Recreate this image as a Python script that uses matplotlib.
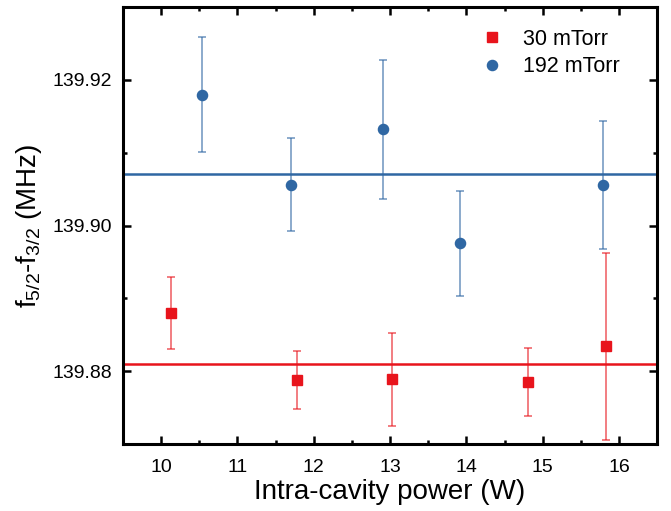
import matplotlib.pyplot as plt
from matplotlib.lines import Line2D
from matplotlib.ticker import MultipleLocator

plt.rcParams['font.family'] = ['Liberation Sans', 'DejaVu Sans']
plt.rcParams['mathtext.fontset'] = 'custom'
plt.rcParams['mathtext.rm'] = 'Liberation Sans'
plt.rcParams['mathtext.it'] = 'Liberation Sans'

# 30 mTorr
power_30 = [10.13, 11.78, 13.02, 14.81, 15.83]
freq_30 = [139.8880, 139.8788, 139.8789, 139.8785, 139.8834]
err_30 = [0.0049, 0.0040, 0.0064, 0.0047, 0.0128]
mean_30 = 139.8810

# 192 mTorr
power_192 = [10.53, 11.70, 12.91, 13.92, 15.79]
freq_192 = [139.9180, 139.9056, 139.9132, 139.8976, 139.9056]
err_192 = [0.0079, 0.0064, 0.0095, 0.0072, 0.0088]
mean_192 = 139.9071

red = '#e8141c'
blue = '#2f67a3'

fig = plt.figure(figsize=(6.71, 5.11), dpi=100)
ax = fig.add_axes([0.1833, 0.131, 0.796, 0.855])

ax.axhline(mean_192, color=blue, lw=1.8, zorder=1)
ax.axhline(mean_30, color=red, lw=1.8, zorder=1)

ax.errorbar(power_30, freq_30, yerr=err_30, fmt='s', color=red, ms=6.5,
            ecolor=red, elinewidth=1.1, capsize=3, capthick=1.1, zorder=3)
ax.errorbar(power_192, freq_192, yerr=err_192, fmt='o', color=blue, ms=7.3,
            ecolor=blue, elinewidth=1.1, capsize=3, capthick=1.1, zorder=3)
# lighter error bars as in the original
for c in ax.containers:
    for bar in c[2]:
        bar.set_alpha(0.7)
    for cap in c[1]:
        cap.set_alpha(0.7)

ax.set_xlim(9.5, 16.5)
ax.set_ylim(139.87, 139.93)
ax.xaxis.set_major_locator(MultipleLocator(1))
ax.xaxis.set_minor_locator(MultipleLocator(0.5))
ax.yaxis.set_major_locator(MultipleLocator(0.02))
ax.yaxis.set_minor_locator(MultipleLocator(0.01))
ax.yaxis.set_major_formatter(plt.FormatStrFormatter('%.2f'))

ax.tick_params(which='both', direction='in', top=True, right=True,
               labelsize=14, width=1.8)
ax.tick_params(axis='x', pad=11)
ax.tick_params(axis='y', pad=8)
ax.tick_params(which='major', length=6)
ax.tick_params(which='minor', length=3)
for s in ax.spines.values():
    s.set_linewidth(2.2)

ax.set_xlabel('Intra-cavity power (W)', fontsize=20, labelpad=2)
ax.set_ylabel(r'f$_{5/2}$-f$_{3/2}$ (MHz)', fontsize=20, labelpad=6)

handles = [Line2D([], [], ls='', marker='s', color=red, ms=6.5),
           Line2D([], [], ls='', marker='o', color=blue, ms=7.3)]
ax.legend(handles, ['30 mTorr', '192 mTorr'], loc='upper right',
          frameon=False, fontsize=15.5, handletextpad=0.85,
          labelspacing=0.3, handlelength=1.2,
          bbox_to_anchor=(0.967, 0.995))

fig.savefig('out.png', dpi=100)
